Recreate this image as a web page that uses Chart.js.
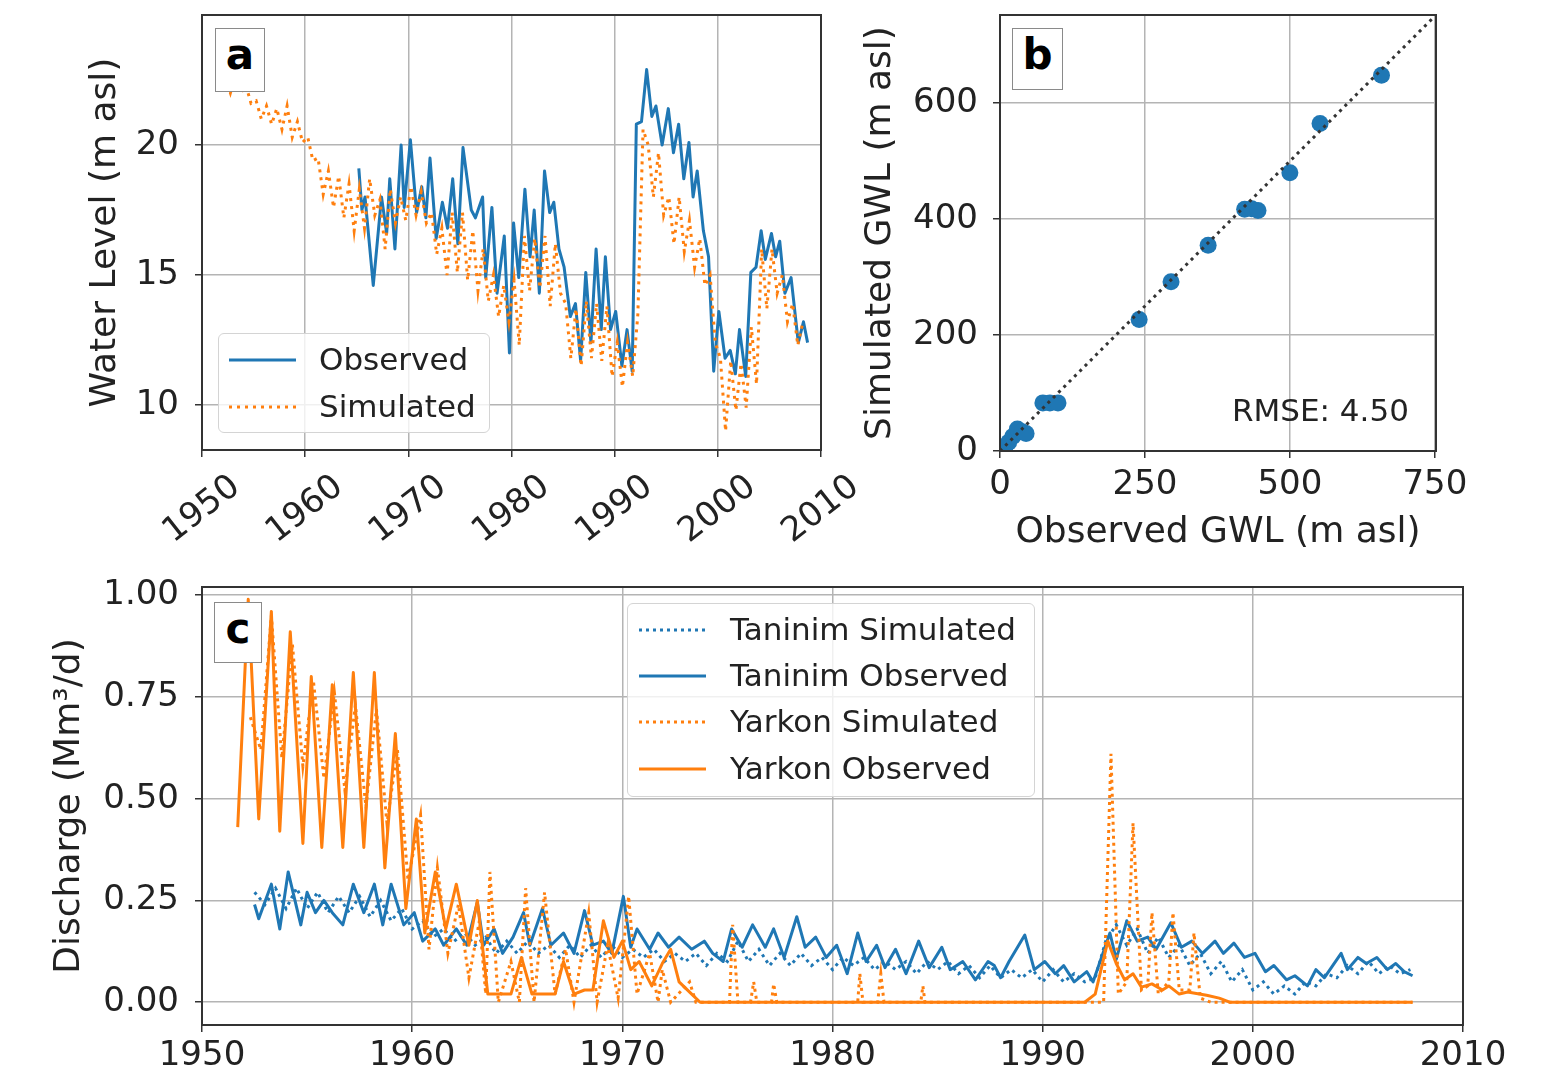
<!DOCTYPE html>
<html><head><meta charset="utf-8">
<script src="https://cdn.jsdelivr.net/npm/chart.js@4/dist/chart.umd.min.js"></script>
<style>
html,body{margin:0;padding:0;background:#fff;}
body{width:1546px;height:1075px;overflow:hidden;position:relative;font-family:"DejaVu Sans",sans-serif;color:#222;}
canvas{position:absolute;}
.box{position:absolute;border:1.5px solid #8a8a8a;background:#fff;box-sizing:border-box;text-align:center;font-weight:bold;font-size:42px;line-height:52px;color:#000;}
.legend{position:absolute;border:1.5px solid #d4d4d4;border-radius:6px;background:rgba(255,255,255,0.8);box-sizing:border-box;}
.lg-row{position:absolute;left:0;height:40px;line-height:40px;font-size:31px;white-space:nowrap;}
.lg-row svg{position:absolute;top:18px;}
.lg-row span{position:absolute;}
.txt{position:absolute;font-size:31px;line-height:40px;white-space:nowrap;}
</style>
</head><body>
<canvas id="cA" width="860" height="570" style="left:0;top:0"></canvas>
<canvas id="cB" width="706" height="570" style="left:840px;top:0"></canvas>
<canvas id="cC" width="1546" height="505" style="left:0;top:570px"></canvas>

<div class="legend" style="left:218px;top:333px;width:272px;height:100px">
  <div class="lg-row" style="top:5px"><svg width="70" height="6" style="left:10px"><line x1="0" y1="3" x2="67" y2="3" stroke="#1f77b4" stroke-width="3"/></svg><span style="left:100px">Observed</span></div>
  <div class="lg-row" style="top:52px"><svg width="70" height="6" style="left:10px"><line x1="0" y1="3" x2="67" y2="3" stroke="#ff7f0e" stroke-width="3" stroke-dasharray="3 5"/></svg><span style="left:100px">Simulated</span></div>
</div>
<div class="box" style="left:215px;top:28px;width:50px;height:64px">a</div>

<div class="box" style="left:1012px;top:28px;width:51px;height:62px">b</div>
<div class="txt" style="left:1232px;top:390px">RMSE: 4.50</div>

<div class="legend" style="left:627px;top:603px;width:408px;height:194px">
  <div class="lg-row" style="top:5px"><svg width="70" height="6" style="left:11px"><line x1="0" y1="3" x2="67" y2="3" stroke="#1f77b4" stroke-width="3" stroke-dasharray="3 4"/></svg><span style="left:102px">Taninim Simulated</span></div>
  <div class="lg-row" style="top:51px"><svg width="70" height="6" style="left:11px"><line x1="0" y1="3" x2="67" y2="3" stroke="#1f77b4" stroke-width="3"/></svg><span style="left:102px">Taninim Observed</span></div>
  <div class="lg-row" style="top:97px"><svg width="70" height="6" style="left:11px"><line x1="0" y1="3" x2="67" y2="3" stroke="#ff7f0e" stroke-width="3" stroke-dasharray="3 4"/></svg><span style="left:102px">Yarkon Simulated</span></div>
  <div class="lg-row" style="top:144px"><svg width="70" height="6" style="left:11px"><line x1="0" y1="3" x2="67" y2="3" stroke="#ff7f0e" stroke-width="3"/></svg><span style="left:102px">Yarkon Observed</span></div>
</div>
<div class="box" style="left:214px;top:602px;width:48px;height:61px">c</div>

<script>
// ---------- Panel a: water level ----------
const yearTicks = [1950, 1960, 1970, 1980, 1990, 2000, 2010];
const waterTicks = [10, 15, 20];
const waterObsYears = [1965.2,1965.5,1965.8,1966.6,1967.4,1967.9,1968.2,1968.7,1969.3,1969.6,1970.2,1970.8,1971.3,1971.7,1972.1,1972.7,1973.3,1973.8,1974.3,1974.8,1975.3,1976.1,1976.5,1977.2,1977.5,1978.1,1978.6,1979.3,1979.8,1980.2,1980.7,1981.3,1981.8,1982.2,1982.7,1983.2,1983.7,1984.1,1984.6,1985.1,1985.7,1986.2,1986.7,1987.2,1987.7,1988.2,1988.7,1989.1,1989.6,1990.1,1990.7,1991.2,1991.7,1992.1,1992.6,1993.1,1993.6,1994.0,1994.6,1995.2,1995.7,1996.2,1996.7,1997.2,1997.6,1998.0,1998.6,1999.1,1999.6,2000.1,2000.7,2001.2,2001.7,2002.1,2002.7,2003.2,2003.7,2004.2,2004.6,2005.2,2005.6,2006.0,2006.5,2007.1,2007.8,2008.3,2008.7];
const waterObsLevel = [19.1,17.5,18.0,14.6,18.0,16.6,18.7,16.0,20.0,17.6,20.2,17.4,18.4,17.2,19.5,16.4,17.8,16.8,18.7,16.2,19.9,17.5,17.2,18.0,14.9,17.6,14.3,16.5,12.0,17.0,14.9,18.3,15.7,17.5,14.3,19.0,17.4,17.8,16.0,15.3,13.4,13.9,11.7,15.1,12.4,16.0,12.9,15.7,12.9,13.6,11.5,12.9,11.3,20.8,20.9,22.9,21.1,21.5,20.0,21.4,19.7,20.8,18.7,20.1,18.0,19.0,16.7,15.7,11.3,13.6,11.8,12.1,11.2,12.9,11.1,15.1,15.3,16.7,15.6,16.6,15.7,16.3,14.3,14.9,12.4,13.2,12.4];
const waterSimYears = [1952.25,1952.75,1953.25,1953.75,1954.25,1954.75,1955.25,1955.75,1956.25,1956.75,1957.25,1957.75,1958.25,1958.75,1959.25,1959.75,1960.25,1960.75,1961.25,1961.75,1962.25,1962.75,1963.25,1963.75,1964.25,1964.75,1965.25,1965.75,1966.25,1966.75,1967.25,1967.75,1968.25,1968.75,1969.25,1969.75,1970.25,1970.75,1971.25,1971.75,1972.25,1972.75,1973.25,1973.75,1974.25,1974.75,1975.25,1975.75,1976.25,1976.75,1977.25,1977.75,1978.25,1978.75,1979.25,1979.75,1980.25,1980.75,1981.25,1981.75,1982.25,1982.75,1983.25,1983.75,1984.25,1984.75,1985.25,1985.75,1986.25,1986.75,1987.25,1987.75,1988.25,1988.75,1989.25,1989.75,1990.25,1990.75,1991.25,1991.75,1992.25,1992.75,1993.25,1993.75,1994.25,1994.75,1995.25,1995.75,1996.25,1996.75,1997.25,1997.75,1998.25,1998.75,1999.25,1999.75,2000.25,2000.75,2001.25,2001.75,2002.25,2002.75,2003.25,2003.75,2004.25,2004.75,2005.25,2005.75,2006.25,2006.75,2007.25,2007.75,2008.25];
const waterSimLevel = [22.6,22.0,22.7,22.0,22.3,21.6,21.7,21.0,21.5,20.8,21.4,20.6,21.5,20.3,20.9,20.1,20.3,19.4,19.5,18.1,19.0,17.6,18.8,17.2,18.5,16.7,18.3,16.8,18.7,17.3,17.9,16.0,18.3,17.0,18.0,17.1,18.4,17.3,18.2,17.0,17.4,15.8,16.8,15.0,17.4,15.1,17.4,14.8,16.7,14.4,16.0,14.0,15.0,13.4,14.6,13.2,14.8,12.3,16.5,14.4,16.4,14.5,16.5,13.8,16.2,14.3,13.9,11.8,13.7,11.5,14.0,11.8,13.9,11.7,13.8,11.1,12.4,10.7,12.4,11.1,13.5,20.6,20.0,18.0,19.7,17.3,18.0,16.2,18.0,15.9,17.1,15.3,16.4,14.6,15.0,12.4,11.8,9.0,11.7,9.8,11.6,9.9,13.0,10.8,16.0,13.7,16.0,14.3,15.0,13.2,13.9,12.3,13.2];

// ---------- Panel b: simulated vs observed GWL ----------
const gwlTicksX = [0, 250, 500, 750];
const gwlTicksY = [0, 200, 400, 600];
const gwlObserved  = [658,552,500,422,434,445,359,295,240,74,86,100,3,8,15,22,30,38,45];
const gwlSimulated = [648,565,480,417,418,415,355,292,227,83,83,83,2,5,15,25,38,33,30];
const oneToOneLine = [0, 750];

// ---------- Panel c: discharge ----------
const dischargeTicks = [0, 0.25, 0.5, 0.75, 1.0];
const taninimSimYears = [1952.5,1953.0,1953.5,1954.0,1954.5,1955.0,1955.5,1956.0,1956.5,1957.0,1957.5,1958.0,1958.5,1959.0,1959.5,1960.0,1960.5,1961.0,1961.5,1962.0,1962.5,1963.0,1963.5,1964.0,1964.5,1965.0,1965.5,1966.0,1966.5,1967.0,1967.5,1968.0,1968.5,1969.0,1969.5,1970.0,1970.5,1971.0,1971.5,1972.0,1972.5,1973.0,1973.5,1974.0,1974.5,1975.0,1975.5,1976.0,1976.5,1977.0,1977.5,1978.0,1978.5,1979.0,1979.5,1980.0,1980.5,1981.0,1981.5,1982.0,1982.5,1983.0,1983.5,1984.0,1984.5,1985.0,1985.5,1986.0,1986.5,1987.0,1987.5,1988.0,1988.5,1989.0,1989.5,1990.0,1990.5,1991.0,1991.5,1992.0,1992.5,1993.0,1993.5,1994.0,1994.5,1995.0,1995.5,1996.0,1996.5,1997.0,1997.5,1998.0,1998.5,1999.0,1999.5,2000.0,2000.5,2001.0,2001.5,2002.0,2002.5,2003.0,2003.5,2004.0,2004.5,2005.0,2005.5,2006.0,2006.5,2007.0,2007.5];
const taninimSimQ = [0.27,0.24,0.28,0.23,0.28,0.23,0.27,0.22,0.26,0.22,0.26,0.21,0.25,0.20,0.23,0.18,0.20,0.16,0.18,0.15,0.17,0.14,0.16,0.12,0.15,0.12,0.15,0.12,0.14,0.11,0.14,0.11,0.14,0.11,0.14,0.11,0.13,0.11,0.13,0.10,0.12,0.10,0.12,0.09,0.12,0.10,0.15,0.10,0.13,0.09,0.12,0.09,0.12,0.09,0.11,0.08,0.11,0.09,0.11,0.08,0.10,0.08,0.10,0.07,0.10,0.08,0.10,0.07,0.09,0.06,0.09,0.06,0.08,0.06,0.08,0.05,0.08,0.05,0.07,0.05,0.06,0.15,0.19,0.14,0.18,0.12,0.16,0.11,0.14,0.09,0.12,0.07,0.10,0.05,0.08,0.03,0.05,0.02,0.04,0.02,0.05,0.04,0.07,0.06,0.09,0.07,0.10,0.07,0.09,0.07,0.08];
const taninimObsYears = [1952.5,1952.7,1953.3,1953.7,1954.1,1954.7,1955.0,1955.4,1955.8,1956.2,1956.7,1957.2,1957.7,1958.2,1958.6,1959.0,1959.6,1960.1,1960.5,1961.1,1961.5,1962.1,1962.6,1963.1,1963.4,1963.9,1964.3,1964.8,1965.3,1965.6,1966.2,1966.6,1967.2,1967.7,1968.2,1968.6,1969.1,1969.5,1970.05,1970.4,1970.7,1971.3,1971.7,1972.2,1972.7,1973.3,1973.9,1974.3,1974.8,1975.2,1975.7,1976.2,1976.8,1977.2,1977.7,1978.3,1978.7,1979.2,1979.7,1980.2,1980.7,1981.2,1981.6,1982.1,1982.5,1983.0,1983.5,1984.1,1984.6,1985.2,1985.6,1986.2,1986.8,1987.4,1987.7,1988.0,1988.4,1989.15,1989.6,1990.1,1990.6,1991.0,1991.5,1992.1,1992.4,1993.2,1993.5,1994.0,1994.5,1995.0,1995.4,1996.1,1996.6,1997.1,1997.6,1998.2,1998.6,1999.1,1999.6,2000.1,2000.6,2001.0,2001.6,2002.0,2002.6,2003.0,2003.4,2004.2,2004.5,2005.0,2005.4,2005.9,2006.4,2006.8,2007.2,2007.6];
const taninimObsQ = [0.24,0.205,0.29,0.18,0.32,0.19,0.27,0.22,0.25,0.22,0.19,0.29,0.22,0.29,0.19,0.29,0.19,0.22,0.15,0.18,0.14,0.18,0.14,0.245,0.14,0.18,0.12,0.16,0.22,0.14,0.23,0.14,0.17,0.12,0.225,0.14,0.15,0.12,0.26,0.135,0.18,0.13,0.17,0.135,0.16,0.13,0.15,0.12,0.10,0.18,0.135,0.19,0.135,0.18,0.11,0.21,0.135,0.16,0.11,0.14,0.07,0.17,0.10,0.14,0.085,0.13,0.07,0.15,0.085,0.135,0.08,0.10,0.055,0.10,0.09,0.06,0.10,0.165,0.08,0.10,0.07,0.09,0.05,0.075,0.05,0.17,0.105,0.20,0.15,0.16,0.13,0.195,0.135,0.15,0.12,0.15,0.12,0.145,0.11,0.12,0.075,0.09,0.055,0.065,0.04,0.08,0.06,0.12,0.08,0.11,0.095,0.11,0.08,0.095,0.075,0.065];
const yarkonSimYears = [1952.3,1952.8,1953.3,1953.8,1954.3,1954.8,1955.3,1955.8,1956.3,1956.8,1957.3,1957.8,1958.3,1958.8,1959.3,1959.8,1960.4,1960.8,1961.2,1961.7,1962.2,1962.7,1963.2,1963.5,1963.7,1964.1,1964.7,1965.1,1965.4,1965.8,1966.3,1966.8,1967.3,1967.7,1968.4,1968.8,1969.3,1969.8,1970.3,1970.7,1971.3,1971.7,1971.9,1972.3,1973.2,1973.5,1975.1,1975.25,1975.5,1976.1,1976.25,1976.4,1977.1,1977.2,1977.35,1981.2,1981.3,1981.45,1982.15,1982.3,1982.45,1984.2,1984.3,1984.4,1992.9,1993.25,1993.6,1994.0,1994.3,1994.7,1995.0,1995.2,1995.5,1996.0,1996.2,1996.5,1997.0,1997.2,1997.5,1998.0,2007.6];
const yarkonSimQ = [0.70,0.62,0.95,0.60,0.88,0.58,0.79,0.55,0.76,0.52,0.73,0.48,0.72,0.44,0.62,0.30,0.46,0.13,0.33,0.12,0.24,0.06,0.20,0.02,0.32,0.0,0.10,0.0,0.28,0.0,0.27,0.02,0.13,0.0,0.22,0.0,0.14,0.01,0.26,0.02,0.12,0.0,0.08,0.0,0.05,0.0,0.0,0.19,0.0,0.0,0.05,0.0,0.0,0.045,0.0,0.0,0.07,0.0,0.0,0.07,0.0,0.0,0.04,0.0,0.0,0.61,0.02,0.05,0.44,0.03,0.04,0.22,0.02,0.05,0.22,0.03,0.03,0.17,0.01,0.0,0.0];
const yarkonObsYears = [1951.7,1952.2,1952.7,1953.3,1953.7,1954.2,1954.8,1955.2,1955.7,1956.2,1956.7,1957.2,1957.7,1958.2,1958.7,1959.2,1959.7,1960.2,1960.6,1961.1,1961.6,1962.1,1962.7,1963.1,1963.6,1964.2,1964.7,1965.2,1965.7,1966.2,1966.8,1967.2,1967.7,1968.2,1968.6,1969.1,1969.6,1970.0,1970.4,1970.8,1971.4,1971.9,1972.3,1972.7,1973.3,1973.7,1992.0,1992.5,1993.1,1993.5,1993.9,1994.3,1994.7,1995.2,1995.7,1996.0,1996.5,1996.9,1997.8,1998.4,1998.9,2007.6];
const yarkonObsQ = [0.43,0.99,0.45,0.96,0.42,0.91,0.39,0.80,0.38,0.78,0.38,0.81,0.38,0.81,0.33,0.66,0.23,0.45,0.17,0.32,0.18,0.29,0.14,0.25,0.02,0.02,0.02,0.11,0.02,0.02,0.02,0.10,0.02,0.03,0.03,0.20,0.11,0.15,0.08,0.10,0.04,0.095,0.13,0.05,0.02,0.0,0.0,0.02,0.15,0.095,0.055,0.07,0.037,0.045,0.03,0.04,0.02,0.025,0.017,0.01,0.0,0.0];

// ---------- shared styling ----------
const BLUE = '#1f77b4', ORANGE = '#ff7f0e';
const FAM = '"DejaVu Sans", sans-serif';
const TICK_FONT = {family: FAM, size: 34};
const TITLE_FONT = {family: FAM, size: 36};
const gridOpts = () => ({color: '#b4b4b4', lineWidth: 1.5, tickColor: '#333', tickLength: 7, tickWidth: 1.5, drawTicks: true});
const pts = (xs, ys) => xs.map((x, i) => ({x: x, y: ys[i]}));
const fixedTicks = vals => s => { s.ticks = vals.map(v => ({value: v})); };
const fitWidth = w => s => { s.width = w; s.paddingTop = 0; s.paddingBottom = 0; s.paddingLeft = 0; s.paddingRight = 0; };
const fitHeight = h => s => { s.height = h; s.paddingTop = 0; s.paddingBottom = 0; s.paddingLeft = 0; s.paddingRight = 0; };
const frame = {id: 'frame', afterDatasetsDraw(chart) {
  const {ctx, chartArea: a} = chart; ctx.save(); ctx.strokeStyle = '#333'; ctx.lineWidth = 2;
  ctx.strokeRect(a.left, a.top, a.right - a.left, a.bottom - a.top); ctx.restore(); }};
const base = pad => ({responsive: false, animation: false, events: [], devicePixelRatio: 1,
  layout: {padding: pad}, plugins: {legend: {display: false}, tooltip: {enabled: false}}});

// ---------- Chart A ----------
new Chart(document.getElementById('cA'), {
  type: 'line',
  data: {datasets: [
    {label: 'Simulated', data: pts(waterSimYears, waterSimLevel), borderColor: ORANGE, borderWidth: 3, borderDash: [3, 5], pointRadius: 0, order: 0},
    {label: 'Observed', data: pts(waterObsYears, waterObsLevel), borderColor: BLUE, borderWidth: 3, borderJoinStyle: 'round', pointRadius: 0, order: 1}
  ]},
  options: Object.assign(base({top: 15, right: 39, left: 0, bottom: 0}), {scales: {
    x: {type: 'linear', min: 1950, max: 2010, afterBuildTicks: fixedTicks(yearTicks), afterFit: fitHeight(120),
        grid: gridOpts(), border: {display: false},
        ticks: {font: TICK_FONT, color: '#222', autoSkip: false, minRotation: 38, maxRotation: 38, labelOffset: 34, padding: 10, callback: v => String(v)}},
    y: {type: 'linear', min: 8.27, max: 25, afterBuildTicks: fixedTicks(waterTicks), afterFit: fitWidth(202),
        grid: gridOpts(), border: {display: false},
        ticks: {font: TICK_FONT, color: '#222', padding: 16, callback: v => String(v)},
        title: {display: true, text: 'Water Level (m asl)', font: TITLE_FONT, color: '#222', padding: {top: 84, bottom: 0}}}
  }}),
  plugins: [frame]
});

// ---------- Chart B ----------
new Chart(document.getElementById('cB'), {
  type: 'scatter',
  data: {datasets: [
    {label: '1:1', data: oneToOneLine.map(v => ({x: v, y: v})), showLine: true, borderColor: '#333', borderWidth: 3, borderDash: [3, 4.5], pointRadius: 0, order: 0},
    {label: 'GWL', data: pts(gwlObserved, gwlSimulated), backgroundColor: BLUE, borderColor: BLUE, borderWidth: 0, pointRadius: 8.5, order: 1}
  ]},
  options: Object.assign(base({top: 15, right: 110, left: 0, bottom: 0}), {scales: {
    x: {type: 'linear', min: 0, max: 752, afterBuildTicks: fixedTicks(gwlTicksX), afterFit: fitHeight(119),
        grid: gridOpts(), border: {display: false},
        ticks: {font: TICK_FONT, color: '#222', autoSkip: false, maxRotation: 0, minRotation: 0, padding: 7, callback: v => String(v)},
        title: {display: true, text: 'Observed GWL (m asl)', font: TITLE_FONT, color: '#222', padding: {top: 0, bottom: 16}}},
    y: {type: 'linear', min: 0, max: 752, afterBuildTicks: fixedTicks(gwlTicksY), afterFit: fitWidth(160),
        grid: gridOpts(), border: {display: false},
        ticks: {font: TICK_FONT, color: '#222', padding: 15, callback: v => String(v)},
        title: {display: true, text: 'Simulated GWL (m asl)', font: TITLE_FONT, color: '#222', padding: {top: 19, bottom: 0}}}
  }}),
  plugins: [frame]
});

// ---------- Chart C ----------
new Chart(document.getElementById('cC'), {
  type: 'line',
  data: {datasets: [
    {label: 'Taninim Simulated', data: pts(taninimSimYears, taninimSimQ), borderColor: BLUE, borderWidth: 3, borderDash: [3, 4], pointRadius: 0, order: 3},
    {label: 'Taninim Observed', data: pts(taninimObsYears, taninimObsQ), borderColor: BLUE, borderWidth: 3, borderJoinStyle: 'round', pointRadius: 0, order: 2},
    {label: 'Yarkon Simulated', data: pts(yarkonSimYears, yarkonSimQ), borderColor: ORANGE, borderWidth: 3, borderDash: [3, 4], pointRadius: 0, order: 1},
    {label: 'Yarkon Observed', data: pts(yarkonObsYears, yarkonObsQ), borderColor: ORANGE, borderWidth: 3, borderJoinStyle: 'round', pointRadius: 0, order: 0}
  ]},
  options: Object.assign(base({top: 17, right: 83, left: 0, bottom: 0}), {scales: {
    x: {type: 'linear', min: 1950, max: 2010, afterBuildTicks: fixedTicks(yearTicks), afterFit: fitHeight(50),
        grid: gridOpts(), border: {display: false},
        ticks: {font: TICK_FONT, color: '#222', autoSkip: false, maxRotation: 0, minRotation: 0, padding: 4, callback: v => String(v)}},
    y: {type: 'linear', min: -0.056, max: 1.02, afterBuildTicks: fixedTicks(dischargeTicks), afterFit: fitWidth(202),
        grid: gridOpts(), border: {display: false},
        ticks: {font: TICK_FONT, color: '#222', padding: 16, callback: v => v.toFixed(2)},
        title: {display: true, text: 'Discharge (Mm³/d)', font: TITLE_FONT, color: '#222', padding: {top: 48, bottom: 0}}}
  }}),
  plugins: [frame]
});
</script>
</body></html>
